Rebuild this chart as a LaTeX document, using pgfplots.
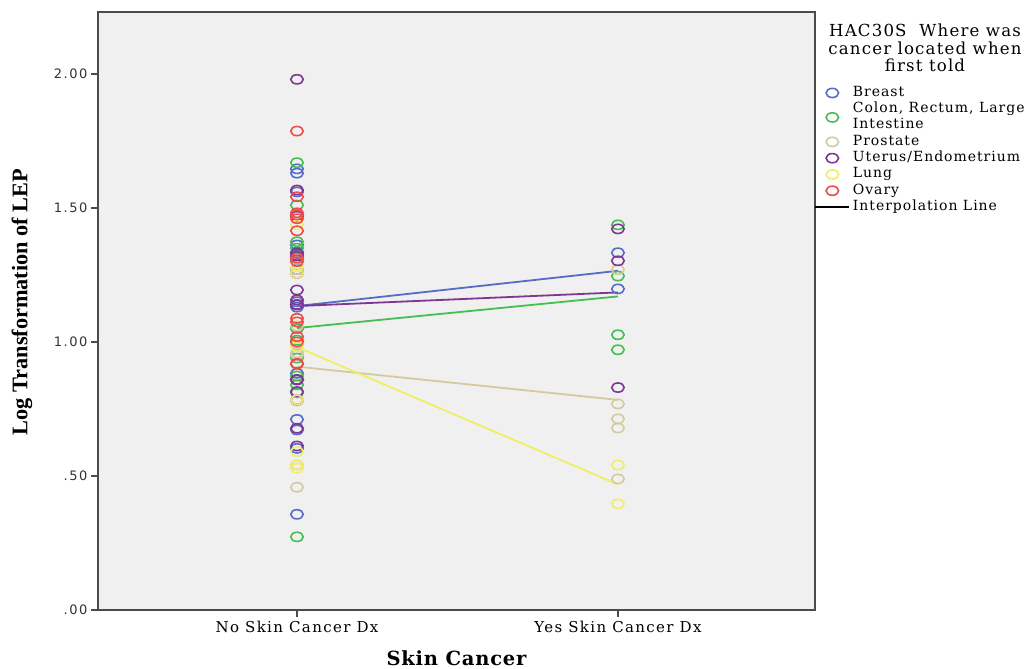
\documentclass[border=0pt]{standalone}
\usepackage{fontspec}
\setmainfont{DejaVu Serif}
\newfontfamily\serf[LetterSpace=7]{DejaVu Serif}
\newfontfamily\serfx[LetterSpace=9]{DejaVu Serif}
\newfontfamily\serfb[LetterSpace=4]{DejaVu Serif Bold}
\newfontfamily\tickf[LetterSpace=12]{DejaVu Sans}
\newfontfamily\ylabf{Liberation Serif}
\usepackage{pgfplots}
\pgfplotsset{compat=1.18}
\newcommand\lstrut{\rule[-4.9pt]{0pt}{16.3pt}}
\definecolor{cBlue}{RGB}{85,108,200}
\definecolor{cGreen}{RGB}{70,190,80}
\definecolor{cTan}{RGB}{212,202,160}
\definecolor{cPurple}{RGB}{128,55,148}
\definecolor{cYellow}{RGB}{240,238,100}
\definecolor{cRed}{RGB}{238,75,75}
\definecolor{bgc}{RGB}{240,240,240}
\definecolor{frameC}{RGB}{75,75,75}
\pgfplotsset{circ/.style={only marks, mark=o, draw=#1, line width=1.6pt, mark size=4.6pt, mark options={xscale=1.36, line width=1.6pt}}}
\begin{document}
\begin{tikzpicture}
\useasboundingbox (0,0) rectangle (1034pt,669pt);
\begin{axis}[
  at={(98pt,59pt)}, anchor=south west,
  scale only axis, width=717pt, height=598pt,
  xmin=-0.62, xmax=1.614, ymin=0, ymax=2.2313,
  axis background/.style={fill=bgc},
  axis line style={draw=frameC, line width=1.5pt},
  xtick={0,1}, xticklabels={No Skin Cancer Dx, Yes Skin Cancer Dx},
  ytick={0,0.5,1,1.5,2}, yticklabels={.00,.50,1.00,1.50,2.00},
  tick pos=left, tick align=outside, major tick length=7pt,
  xtick style={draw=frameC, line width=1.5pt},
  ytick style={draw=frameC, line width=1.5pt},
  y tick label style={font=\tickf\fontsize{13}{15}\selectfont, text=black!80},
  x tick label style={font=\serfx\fontsize{15}{17}\selectfont, yshift=-1pt},
  ylabel={Log Transformation of LEP},
  ylabel style={at={(axis description cs:-0.106,0.515)}, anchor=center, font=\ylabf\bfseries\fontsize{22.3}{24}\selectfont},
  xlabel={Skin Cancer},
  xlabel style={at={(axis description cs:0.5,-0.080)}, anchor=center, font=\serfb\fontsize{19.5}{22}\selectfont},
  legend style={at={(axis description cs:0.9993,0.8786)}, anchor=north west, draw=none, fill=none,
    inner sep=0pt, nodes={inner sep=0pt, text depth=4.9pt}, column sep=3.5pt, row sep=0pt,
    font=\serf\fontsize{14}{16.3}\selectfont},
  legend cell align=left,
]
% Breast
\addplot[circ=cBlue] table {
x y
0 1.646
0 1.63
0 1.56
0 1.47
0 1.362
0 1.335
0 1.325
0 1.306
0 1.27
0 1.15
0 1.13
0 1.051
0 0.951
0 0.883
0 0.711
0 0.672
0 0.603
0 0.357
1 1.333
1 1.198
};
\addlegendentry{\lstrut Breast}
% Colon
\addplot[circ=cGreen] table {
x y
0 1.669
0 1.511
0 1.374
0 1.35
0 1.05
0 1.007
0 0.94
0 0.873
0 0.86
0 0.84
0 0.81
0 0.273
1 1.437
1 1.246
1 1.027
1 0.971
};
\addlegendentry{\begin{tabular}[b]{@{}l@{}}\lstrut Colon, Rectum, Large\\\lstrut Intestine\end{tabular}}
% Prostate
\addplot[circ=cTan] table {
x y
0 1.27
0 1.157
0 1.06
0 0.99
0 0.96
0 0.951
0 0.78
0 0.541
0 0.458
1 1.27
1 0.769
1 0.713
1 0.679
1 0.489
};
\addlegendentry{\lstrut Prostate}
% Uterus
\addplot[circ=cPurple] table {
x y
0 1.98
0 1.567
0 1.47
0 1.331
0 1.32
0 1.256
0 1.194
0 1.157
0 1.14
0 1.138
0 0.86
0 0.858
0 0.815
0 0.784
0 0.678
0 0.612
1 1.422
1 1.303
1 0.83
};
\addlegendentry{\lstrut Uterus/Endometrium}
% Lung
\addplot[circ=cYellow] table {
x y
0 1.437
0 1.3
0 1.281
0 1.256
0 1.088
0 0.982
0 0.784
0 0.591
0 0.541
0 0.529
1 0.541
1 0.396
};
\addlegendentry{\lstrut Lung}
% Ovary
\addplot[circ=cRed] table {
x y
0 1.787
0 1.542
0 1.482
0 1.474
0 1.46
0 1.415
0 1.313
0 1.3
0 1.088
0 1.075
0 1.02
0 1.0
0 0.92
0 0.918
};
\addlegendentry{\lstrut Ovary}
% Interpolation lines (group means)
\addplot[forget plot, cBlue, line width=1.8pt, no marks] coordinates {(0,1.134) (1,1.2655)};
\addplot[forget plot, cGreen, line width=1.8pt, no marks] coordinates {(0,1.052) (1,1.170)};
\addplot[forget plot, cTan, line width=1.8pt, no marks] coordinates {(0,0.908) (1,0.784)};
\addplot[forget plot, cPurple, line width=1.8pt, no marks] coordinates {(0,1.134) (1,1.185)};
\addplot[forget plot, cYellow, line width=1.8pt, no marks] coordinates {(0,0.981) (1,0.4685)};
\addlegendimage{legend image code/.code={\draw[black, line width=1.2pt] (-8.5pt,0pt)--(25pt,0pt);}}
\addlegendentry{\lstrut Interpolation Line}
\end{axis}
\node[align=center, font=\serf\fontsize{16.6}{17.5}\selectfont, inner sep=0pt] at (925pt,621pt) {HAC30S\ \ Where was\\cancer located when\\first told};
\end{tikzpicture}
\end{document}
